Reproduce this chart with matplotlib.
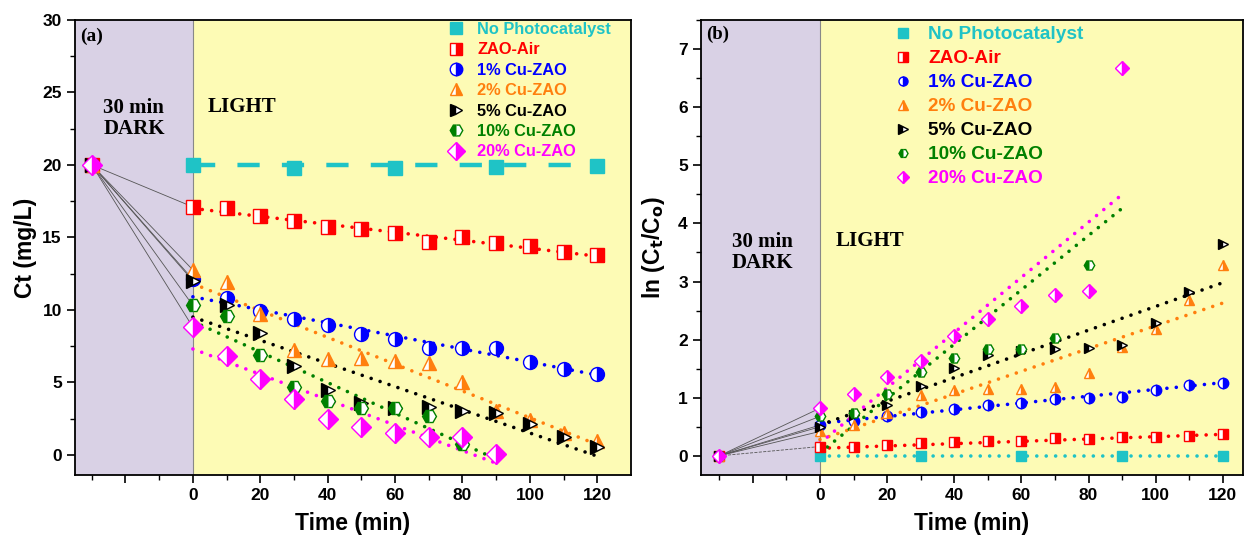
import matplotlib
matplotlib.use('Agg')
import matplotlib.pyplot as plt
from matplotlib.lines import Line2D
from matplotlib.ticker import MultipleLocator, FixedLocator

plt.rcParams['font.family'] = ['Liberation Sans', 'DejaVu Sans']
plt.rcParams['font.weight'] = 'bold'
plt.rcParams['axes.labelweight'] = 'bold'

# ---------------- data ----------------
labels = ['No Photocatalyst', 'ZAO-Air', '1% Cu-ZAO', '2% Cu-ZAO', '5% Cu-ZAO', '10% Cu-ZAO', '20% Cu-ZAO']
colors = ['#1fc3c6', '#ff0000', '#0000ff', '#ff7f0e', '#000000', '#008000', '#ff00ff']
markers = ['s', 's', 'o', '^', '>', 'H', 'D']
fills = ['full', 'right', 'right', 'right', 'left', 'left', 'right']

t_dark = -30
t_all = [0, 10, 20, 30, 40, 50, 60, 70, 80, 90, 100, 110, 120]
t_nocat = [0, 30, 60, 90, 120]
t_10 = [0, 10, 20, 30, 40, 50, 60, 70, 80]
t_20 = [0, 10, 20, 30, 40, 50, 60, 70, 80, 90]

# (a) Ct (mg/L)
dark_a = 20.0
nocat_a = [20.0, 19.8, 19.8, 19.85, 19.9]
zao_a = [17.1, 17.0, 16.5, 16.1, 15.7, 15.6, 15.3, 14.7, 15.0, 14.6, 14.4, 14.0, 13.8]
cu1_a = [12.1, 10.8, 9.9, 9.4, 8.95, 8.35, 8.0, 7.4, 7.4, 7.35, 6.4, 5.9, 5.6]
cu2_a = [12.75, 11.9, 9.7, 7.2, 6.6, 6.65, 6.45, 6.35, 5.0, 3.0, 2.4, 1.5, 0.95]
cu5_a = [12.0, 10.3, 8.4, 6.1, 4.5, 3.6, 3.2, 3.3, 3.05, 2.9, 2.1, 1.2, 0.5]
cu10_a = [10.3, 9.6, 6.9, 4.7, 3.7, 3.25, 3.2, 2.65, 0.75]
cu20_a = [8.8, 6.8, 5.2, 3.85, 2.5, 1.9, 1.5, 1.25, 1.2, 0.05]

# fitted lines (a): start/end
fit_t_a = [[0, 120], [0, 120], [0, 120], [0, 120], [0, 120], [0, 90], [0, 89]]
fit_y_a = [[20.0, 20.0], [17.0, 13.7], [10.9, 5.5], [11.8, 0.7], [9.5, -0.1], [9.2, -0.3], [7.3, -0.5]]

# (b) ln(Ct/Co)
dark_b = 0.0
nocat_b = [0.0, 0.0, 0.0, 0.0, 0.0]
zao_b = [0.16, 0.16, 0.19, 0.22, 0.24, 0.25, 0.26, 0.30, 0.29, 0.32, 0.33, 0.345, 0.37]
cu1_b = [0.53, 0.6, 0.68, 0.75, 0.80, 0.88, 0.91, 0.98, 0.99, 1.01, 1.14, 1.22, 1.26]
cu2_b = [0.42, 0.53, 0.74, 1.05, 1.14, 1.15, 1.15, 1.19, 1.43, 1.88, 2.18, 2.69, 3.29]
cu5_b = [0.5, 0.71, 0.88, 1.2, 1.52, 1.74, 1.8, 1.84, 1.85, 1.9, 2.29, 2.82, 3.65]
cu10_b = [0.68, 0.74, 1.07, 1.44, 1.68, 1.84, 1.84, 2.03, 3.29]
cu20_b = [0.82, 1.07, 1.35, 1.64, 2.07, 2.36, 2.58, 2.76, 2.83, 6.68]

fit_t_b = [[0, 120], [0, 120], [0, 120], [0, 120], [0, 120], [0, 90], [0, 89]]
fit_y_b = [[0.0, 0.0], [0.13, 0.37], [0.56, 1.26], [0.28, 2.63], [0.53, 2.98], [0.05, 4.26], [0.22, 4.45]]

times = [t_nocat, t_all, t_all, t_all, t_all, t_10, t_20]
vals_a = [nocat_a, zao_a, cu1_a, cu2_a, cu5_a, cu10_a, cu20_a]
vals_b = [nocat_b, zao_b, cu1_b, cu2_b, cu5_b, cu10_b, cu20_b]

dark_col = '#d9d1e5'
light_col = '#fdfbb5'
serif = ['Liberation Serif', 'DejaVu Serif']


def draw_panel(ax, vals, dark_val, fit_t, fit_y, xlim, ylim, ms, a_panel):
    ax.set_facecolor(light_col)
    ax.axvspan(xlim[0], 0, color=dark_col, zorder=0, lw=0)
    ax.axvline(0, color='#888888', lw=0.8, zorder=1)

    for i in range(len(labels)):
        c = colors[i]
        tt = times[i]
        yy = vals[i]
        # line from the dark point to t=0
        if i > 0:
            ls = '--' if (not a_panel and i == 1) else '-'
            ax.plot([t_dark, tt[0]], [dark_val, yy[0]], color='#555555', lw=0.6, ls=ls, zorder=2)
        # fitted line
        if i == 0 and a_panel:
            ax.plot(fit_t[i], fit_y[i], color=c, lw=3.2, dashes=(5, 5), zorder=3)
        else:
            ax.plot(fit_t[i], fit_y[i], color=c, lw=2.6, ls=(0, (0.01, 2.6)),
                    dash_capstyle='round', zorder=3)
        ax.plot(tt, yy, ls='none', marker=markers[i], ms=ms, mfc=c, mec=c, mfcalt='white',
                fillstyle=fills[i], mew=1.0, zorder=4)
        if i > 0:
            ax.plot([t_dark], [dark_val], ls='none', marker=markers[i], ms=ms, mfc=c, mec=c,
                    mfcalt='white', fillstyle=fills[i], mew=1.0, zorder=4)

    ax.set_xlim(*xlim)
    ax.set_ylim(*ylim)
    ax.xaxis.set_major_locator(FixedLocator([-20, 0, 20, 40, 60, 80, 100, 120]))
    ax.set_xticklabels(['', '0', '20', '40', '60', '80', '100', '120'])
    ax.xaxis.set_minor_locator(FixedLocator([-30, -10, 10, 30, 50, 70, 90, 110]))
    ax.tick_params(which='major', direction='out', length=6, width=1.2, labelsize=12.5)
    ax.tick_params(which='minor', direction='out', length=3.5, width=1.0)
    for s in ax.spines.values():
        s.set_linewidth(1.3)
    ax.set_xlabel('Time (min)', fontsize=16.5, fontweight='bold', labelpad=6)


fig = plt.figure(figsize=(12.47, 5.35), dpi=100)
ax1 = fig.add_axes([0.0601, 0.1121, 0.4459, 0.8505])
ax2 = fig.add_axes([0.5622, 0.1121, 0.4346, 0.8505])

draw_panel(ax1, vals_a, dark_a, fit_t_a, fit_y_a, (-35, 130), (-1.4, 30), 10, True)
ax1.yaxis.set_major_locator(MultipleLocator(5))
ax1.yaxis.set_minor_locator(MultipleLocator(2.5))
ax1.set_ylabel('Ct (mg/L)', fontsize=16.5, fontweight='bold', labelpad=4)

draw_panel(ax2, vals_b, dark_b, fit_t_b, fit_y_b, (-35.4, 126), (-0.33, 7.5), 7.5, False)
ax2.yaxis.set_major_locator(MultipleLocator(1))
ax2.yaxis.set_minor_locator(MultipleLocator(0.5))
ax2.set_ylabel(r'ln (C$_\mathbf{t}$/C$_\mathbf{o}$)', fontsize=16.5, fontweight='bold', labelpad=8)

# annotations
ax1.text(-33.5, 29.5, '(a)', family=serif, fontsize=14, fontweight='bold', va='top')
ax1.text(-17.5, 23.2, '30 min\nDARK', family=serif, fontsize=15, fontweight='bold',
         ha='center', va='center', linespacing=1.05)
ax1.text(14.5, 24.0, 'LIGHT', family=serif, fontsize=15, fontweight='bold', ha='center', va='center')

ax2.text(-34, 7.4, '(b)', family=serif, fontsize=13.5, fontweight='bold', va='top')
ax2.text(-17, 3.5, '30 min\nDARK', family=serif, fontsize=15, fontweight='bold',
         ha='center', va='center', linespacing=1.05)
ax2.text(15, 3.7, 'LIGHT', family=serif, fontsize=15, fontweight='bold', ha='center', va='center')


def add_legend(ax, ms, fs, anchor, spacing, pad):
    handles = [Line2D([], [], ls='none', marker=markers[i], ms=ms, mfc=colors[i], mec=colors[i],
                      mfcalt='white', fillstyle=fills[i], mew=1.0) for i in range(len(labels))]
    leg = ax.legend(handles, labels, loc='upper left', bbox_to_anchor=anchor,
                    bbox_transform=fig.transFigure, frameon=False,
                    handlelength=1.0, handletextpad=pad, labelspacing=spacing,
                    borderpad=0, borderaxespad=0, prop={'weight': 'bold', 'size': fs})
    for txt, c in zip(leg.get_texts(), colors):
        txt.set_color(c)
    return leg


add_legend(ax1, 9, 11.8, (448 / 1247, 1 - 22 / 535), 0.33, 0.78)
add_legend(ax2, 6.5, 13.7, (893 / 1247, 1 - 26 / 535), 0.35, 0.86)

fig.savefig('out.png', dpi=100)
